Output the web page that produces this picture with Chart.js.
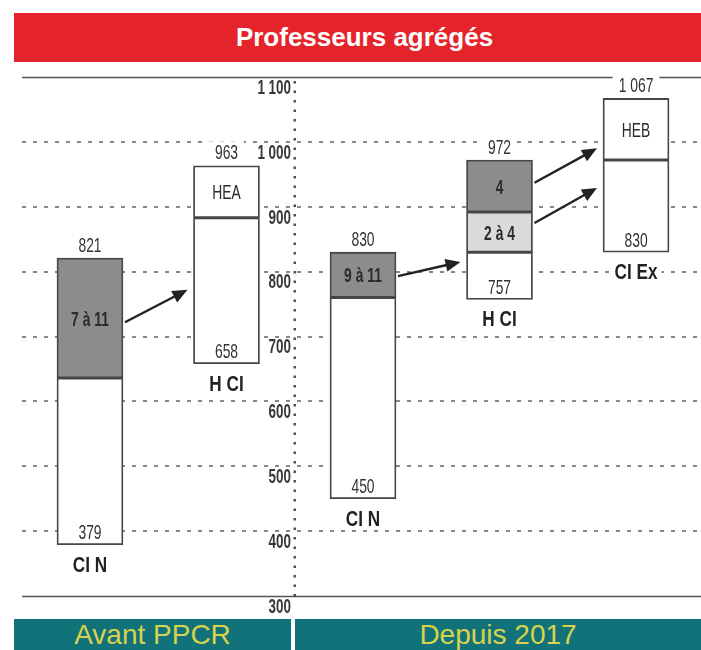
<!DOCTYPE html>
<html>
<head>
<meta charset="utf-8">
<script src="https://cdn.jsdelivr.net/npm/chart.js@4.4.1/dist/chart.umd.min.js"></script>
<style>
html,body{margin:0;padding:0;background:#fff;}
#wrap{position:relative;width:701px;height:650px;overflow:hidden;background:#fff;}
#chart{position:absolute;left:0;top:0;}
.banner{position:absolute;box-sizing:border-box;text-align:center;overflow:hidden;white-space:nowrap;}
#title{left:14px;top:13px;width:687px;height:49px;line-height:49px;padding-left:14px;background:#e5232a;color:#fff;font-weight:bold;font-size:26px;font-family:'Liberation Sans',Arial,sans-serif;}
.period{top:619px;height:31px;line-height:28px;padding-top:2px;background:#12727a;color:#d8d24c;font-size:28px;font-family:'Liberation Sans',Arial,sans-serif;}
#p1{left:14px;width:277px;}
#p2{left:295px;width:406px;}
</style>
</head>
<body>
<div id="wrap">
  <canvas id="chart" width="701" height="650"></canvas>
  <div class="banner" id="title">Professeurs agrégés</div>
  <div class="banner period" id="p1">Avant PPCR</div>
  <div class="banner period" id="p2">Depuis 2017</div>
</div>
<script>
// ---- data ----
const categories = ['CI N', 'H CI', 'CI N', 'H CI', 'CI Ex'];
const positions = [0, 1, 2, 3, 4];
const bottomValues = [379, 658, 450, 757, 830];
const topValues = [821, 963, 830, 972, 1067];
const baseSegment = [[379, 636], [658, 883], [450, 760], [757, 830], [830, 972]];
const middleSegment = [[636, 821], [883, 963], [760, 830], [830, 892], [972, 1067]];
const middleLabels = ['7 à 11', 'HEA', '9 à 11', '2 à 4', 'HEB'];
const topSegmentPositions = [3];
const topSegment = [[892, 972]];
const topSegmentLabels = ['4'];
const yTicks = [300, 400, 500, 600, 700, 800, 900, 1000, 1100];
const arrowFrom = [0, 2, 3, 3];
const arrowTo = [1, 3, 4, 4];
const arrowStartValues = [722, 793, 937, 875];
const arrowEndValues = [772, 815, 990, 929];

// ---- helpers ----
const FONT = "'Liberation Sans',Arial,sans-serif";
const AXIS_POS = 1.5;
const fmt = v => String(v).replace(/\B(?=(\d{3})+(?!\d))/g, ' ');
const isEdge = v => v === yTicks[0] || v === yTicks[yTicks.length - 1];

// narrow text: horizontally compressed, centred on (x, cy)
function nText(ctx, txt, x, cy, size, bold, sx, color, boxPad) {
  ctx.save();
  ctx.font = (bold ? 'bold ' : '') + size + 'px ' + FONT;
  ctx.textAlign = 'center';
  ctx.textBaseline = 'alphabetic';
  const w = ctx.measureText(txt).width * sx;
  if (boxPad !== undefined) {
    ctx.fillStyle = '#fff';
    ctx.fillRect(x - w / 2 - boxPad, cy - size * 0.5, w + boxPad * 2, size);
  }
  ctx.translate(x, cy + size * 0.358);
  ctx.scale(sx, 1);
  ctx.fillStyle = color;
  ctx.fillText(txt, 0, 0);
  ctx.restore();
}

const annot = {
  id: 'annot',
  beforeDraw(chart) {
    const s = chart.scales.y;
    if (s && !s.__narrow) {
      const orig = s.drawLabels;
      s.drawLabels = function (area) {
        const ax = chart.scales.x.getPixelForValue(AXIS_POS);
        const c = this.ctx;
        c.save();
        c.translate(ax, 0);
        c.scale(0.64, 1);
        c.translate(-ax, 0);
        orig.call(this, area);
        c.restore();
      };
      s.__narrow = true;
    }
  },
  beforeDatasetsDraw(chart) {
    const ctx = chart.ctx, a = chart.chartArea;
    const xs = chart.scales.x, ys = chart.scales.y;
    ctx.save();
    // solid frame lines at min / max
    ctx.strokeStyle = '#555';
    ctx.lineWidth = 1.6;
    [yTicks[0], yTicks[yTicks.length - 1]].forEach(v => {
      const py = Math.round(ys.getPixelForValue(v)) + 0.5;
      ctx.beginPath();
      ctx.moveTo(a.left, py);
      ctx.lineTo(a.right, py);
      ctx.stroke();
    });
    // dotted vertical axis
    const ax = xs.getPixelForValue(AXIS_POS);
    ctx.strokeStyle = '#4a4a4a';
    ctx.lineWidth = 2.4;
    ctx.setLineDash([2.5, 7]);
    ctx.beginPath();
    ctx.moveTo(ax, a.top + 4);
    ctx.lineTo(ax, a.bottom + 4);
    ctx.stroke();
    ctx.restore();
  },
  afterDatasetsDraw(chart) {
    const ctx = chart.ctx;
    const xs = chart.scales.x, ys = chart.scales.y;
    ctx.save();

    // segment labels
    chart.data.datasets.forEach((ds, di) => {
      if (!ds.segLabels) return;
      const meta = chart.getDatasetMeta(di);
      meta.data.forEach((el, j) => {
        const lbl = ds.segLabels[j];
        if (!lbl) return;
        nText(ctx, lbl, el.x, (el.y + el.base) / 2, 21, ds.segBold[j], 0.66, '#2b2b2b');
      });
    });

    const halfW = chart.getDatasetMeta(0).data[0].width / 2;

    positions.forEach((p, i) => {
      const px = xs.getPixelForValue(p);
      const yTop = ys.getPixelForValue(topValues[i]);
      const yBot = ys.getPixelForValue(bottomValues[i]);
      nText(ctx, fmt(topValues[i]), px, yTop - 14, 21, false, 0.66, '#333', 6);
      nText(ctx, fmt(bottomValues[i]), px, yBot - 13, 21, false, 0.66, '#333');
      nText(ctx, categories[i], px, yBot + 19, 22, true, 0.78, '#222', 4);
    });

    // arrows
    ctx.strokeStyle = '#222';
    ctx.fillStyle = '#222';
    ctx.lineWidth = 2.4;
    arrowFrom.forEach((f, k) => {
      const x1 = xs.getPixelForValue(positions[f]) + halfW + 2;
      const x2 = xs.getPixelForValue(positions[arrowTo[k]]) - halfW - 6;
      const y1 = ys.getPixelForValue(arrowStartValues[k]);
      const y2 = ys.getPixelForValue(arrowEndValues[k]);
      const ang = Math.atan2(y2 - y1, x2 - x1);
      const hl = 15, hw = 6.5;
      const bx = x2 - hl * Math.cos(ang), by = y2 - hl * Math.sin(ang);
      ctx.beginPath();
      ctx.moveTo(x1, y1);
      ctx.lineTo(bx + 2 * Math.cos(ang), by + 2 * Math.sin(ang));
      ctx.stroke();
      ctx.beginPath();
      ctx.moveTo(x2, y2);
      ctx.lineTo(bx + hw * Math.sin(ang), by - hw * Math.cos(ang));
      ctx.lineTo(bx - hw * Math.sin(ang), by + hw * Math.cos(ang));
      ctx.closePath();
      ctx.fill();
    });
    ctx.restore();
  }
};

const barStyle = {
  borderColor: '#464646',
  borderWidth: 1.8,
  borderSkipped: false,
  barThickness: 66,
  grouped: false
};

new Chart(document.getElementById('chart'), {
  type: 'bar',
  data: {
    datasets: [
      Object.assign({
        label: 'base',
        data: positions.map((p, i) => ({x: p, y: baseSegment[i]})),
        backgroundColor: '#ffffff'
      }, barStyle),
      Object.assign({
        label: 'middle',
        data: positions.map((p, i) => ({x: p, y: middleSegment[i]})),
        backgroundColor: ['#8c8c8c', '#ffffff', '#8c8c8c', '#dadada', '#ffffff'],
        segLabels: middleLabels,
        segBold: [true, false, true, true, false]
      }, barStyle),
      Object.assign({
        label: 'top',
        data: topSegmentPositions.map((p, i) => ({x: p, y: topSegment[i]})),
        backgroundColor: '#8c8c8c',
        segLabels: topSegmentLabels,
        segBold: [true]
      }, barStyle)
    ]
  },
  options: {
    responsive: false,
    animation: false,
    devicePixelRatio: 1,
    layout: {padding: {left: 22, right: 0, top: 77, bottom: 54}},
    plugins: {legend: {display: false}, tooltip: {enabled: false}, title: {display: false}},
    scales: {
      x: {type: 'linear', min: -0.498, max: 4.476, offset: false, display: false},
      y: {
        type: 'linear',
        min: yTicks[0],
        max: yTicks[yTicks.length - 1],
        position: {x: AXIS_POS},
        afterBuildTicks: s => { s.ticks = yTicks.map(v => ({value: v})); },
        ticks: {
          callback: v => fmt(v) + ' ',
          labelOffset: 11,
          color: '#383838',
          font: {family: FONT, size: 21, weight: 'bold'},
          autoSkip: false,
          z: 1
        },
        grid: {
          drawTicks: false,
          color: c => (c.tick && isEdge(c.tick.value)) ? 'rgba(0,0,0,0)' : '#888888',
          lineWidth: 2
        },
        border: {display: false, dash: [4, 7]}
      }
    }
  },
  plugins: [annot]
});
</script>
</body>
</html>
